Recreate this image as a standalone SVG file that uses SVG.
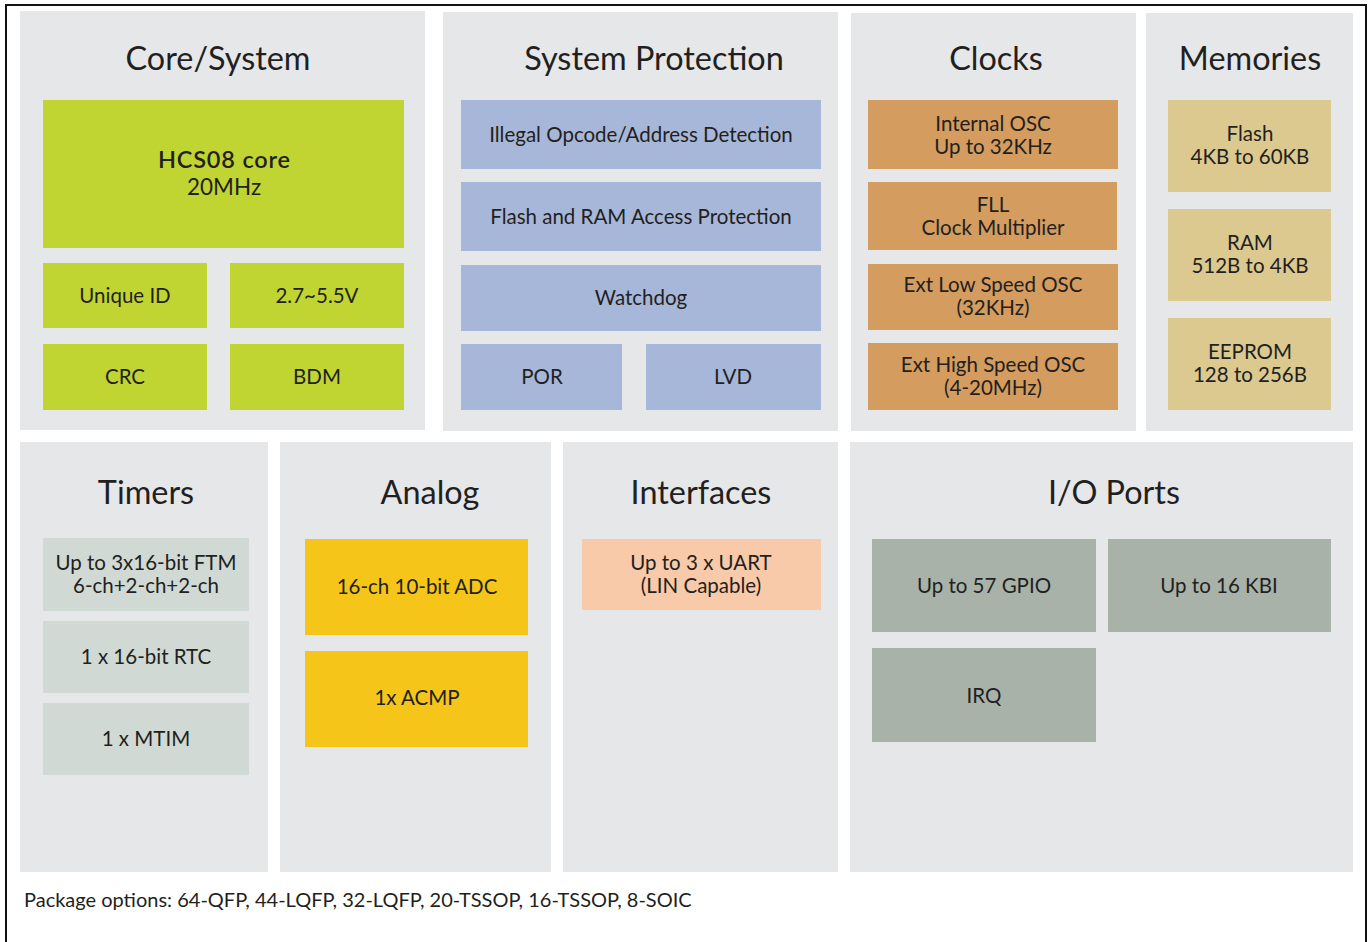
<svg xmlns="http://www.w3.org/2000/svg" width="1368" height="942" viewBox="0 0 1368 942">
<style>
.panel{fill:#e6e7e8}
.t{font-family:Lato,"Open Sans","Liberation Sans",sans-serif;fill:#231f20;text-anchor:middle}
.title{font-size:32.4px}
.lbl{font-size:20.5px}
.green{fill:#c1d532}
.blue{fill:#a7b7d9}
.orange{fill:#d49c5f}
.tan{fill:#dcc98f}
.tgray{fill:#d1d9d4}
.yellow{fill:#f5c619}
.peach{fill:#f8caa9}
.iogray{fill:#a8b2a9}
</style>
<rect x="0" y="0" width="1368" height="942" fill="#ffffff"/>
<rect x="6" y="5" width="1360" height="960" fill="none" stroke="#111" stroke-width="2"/>

<g id="core-system">
<rect class="panel" x="20" y="11" width="405" height="419"/>
<text class="t title" x="218" y="70">Core/System</text>
</g>
<g id="hcs08"><rect class="green" x="43" y="100" width="361" height="148"/><text class="t" x="224" y="168" style="font-size:23.5px;font-weight:600" textLength="132" lengthAdjust="spacing">HCS08 core</text><text class="t" x="224" y="195" style="font-size:22.5px">20MHz</text></g>
<g id="unique-id"><rect class="green" x="43" y="263" width="164" height="65"/><text class="t lbl" x="125" y="303">Unique ID</text></g>
<g id="voltage"><rect class="green" x="230" y="263" width="174" height="65"/><text class="t lbl" x="317" y="303">2.7~5.5V</text></g>
<g id="crc"><rect class="green" x="43" y="344" width="164" height="66"/><text class="t lbl" x="125" y="384">CRC</text></g>
<g id="bdm"><rect class="green" x="230" y="344" width="174" height="66"/><text class="t lbl" x="317" y="384">BDM</text></g>

<g id="system-protection">
<rect class="panel" x="443" y="12" width="395" height="419"/>
<text class="t title" x="654" y="70">System Protection</text>
</g>
<g id="illegal"><rect class="blue" x="461" y="100" width="360" height="69"/><text class="t lbl" x="641" y="142">Illegal Opcode/Address Detection</text></g>
<g id="flash-ram-prot"><rect class="blue" x="461" y="182" width="360" height="69"/><text class="t lbl" x="641" y="224">Flash and RAM Access Protection</text></g>
<g id="watchdog"><rect class="blue" x="461" y="265" width="360" height="66"/><text class="t lbl" x="641" y="305">Watchdog</text></g>
<g id="por"><rect class="blue" x="461" y="344" width="161" height="66"/><text class="t lbl" x="542" y="384">POR</text></g>
<g id="lvd"><rect class="blue" x="646" y="344" width="175" height="66"/><text class="t lbl" x="733" y="384">LVD</text></g>

<g id="clocks">
<rect class="panel" x="851" y="13" width="285" height="418"/>
<text class="t title" x="996" y="70">Clocks</text>
</g>
<g id="internal-osc"><rect class="orange" x="868" y="100" width="250" height="69"/><text class="t lbl" x="993" y="131">Internal OSC</text><text class="t lbl" x="993" y="154">Up to 32KHz</text></g>
<g id="fll"><rect class="orange" x="868" y="182" width="249" height="68"/><text class="t lbl" x="993" y="212">FLL</text><text class="t lbl" x="993" y="235">Clock Multiplier</text></g>
<g id="ext-low"><rect class="orange" x="868" y="264" width="250" height="66"/><text class="t lbl" x="993" y="292">Ext Low Speed OSC</text><text class="t lbl" x="993" y="315">(32KHz)</text></g>
<g id="ext-high"><rect class="orange" x="868" y="343" width="250" height="67"/><text class="t lbl" x="993" y="372">Ext High Speed OSC</text><text class="t lbl" x="993" y="395">(4-20MHz)</text></g>

<g id="memories">
<rect class="panel" x="1146" y="13" width="207" height="418"/>
<text class="t title" x="1250" y="70">Memories</text>
</g>
<g id="flash"><rect class="tan" x="1168" y="100" width="163" height="92"/><text class="t lbl" x="1250" y="141">Flash</text><text class="t lbl" x="1250" y="164">4KB to 60KB</text></g>
<g id="ram"><rect class="tan" x="1168" y="209" width="163" height="92"/><text class="t lbl" x="1250" y="250">RAM</text><text class="t lbl" x="1250" y="273">512B to 4KB</text></g>
<g id="eeprom"><rect class="tan" x="1168" y="318" width="163" height="92"/><text class="t lbl" x="1250" y="359">EEPROM</text><text class="t lbl" x="1250" y="382">128 to 256B</text></g>

<g id="timers">
<rect class="panel" x="20" y="442" width="248" height="430"/>
<text class="t title" x="146" y="504">Timers</text>
</g>
<g id="ftm"><rect class="tgray" x="43" y="538" width="206" height="73"/><text class="t lbl" x="146" y="570">Up to 3x16-bit FTM</text><text class="t lbl" x="146" y="593">6-ch+2-ch+2-ch</text></g>
<g id="rtc"><rect class="tgray" x="43" y="621" width="206" height="72"/><text class="t lbl" x="146" y="664">1 x 16-bit RTC</text></g>
<g id="mtim"><rect class="tgray" x="43" y="703" width="206" height="72"/><text class="t lbl" x="146" y="746">1 x MTIM</text></g>

<g id="analog">
<rect class="panel" x="280" y="442" width="271" height="430"/>
<text class="t title" x="430" y="504">Analog</text>
</g>
<g id="adc"><rect class="yellow" x="305" y="539" width="223" height="96"/><text class="t lbl" x="417" y="594">16-ch 10-bit ADC</text></g>
<g id="acmp"><rect class="yellow" x="305" y="651" width="223" height="96"/><text class="t lbl" x="417" y="705">1x ACMP</text></g>

<g id="interfaces">
<rect class="panel" x="563" y="442" width="275" height="430"/>
<text class="t title" x="701" y="504">Interfaces</text>
</g>
<g id="uart"><rect class="peach" x="582" y="539" width="239" height="71"/><text class="t lbl" x="701" y="570">Up to 3 x UART</text><text class="t lbl" x="701" y="593">(LIN Capable)</text></g>

<g id="io-ports">
<rect class="panel" x="850" y="442" width="503" height="430"/>
<text class="t title" x="1114" y="504">I/O Ports</text>
</g>
<g id="gpio"><rect class="iogray" x="872" y="539" width="224" height="93"/><text class="t lbl" x="984" y="593">Up to 57 GPIO</text></g>
<g id="kbi"><rect class="iogray" x="1108" y="539" width="223" height="93"/><text class="t lbl" x="1219" y="593">Up to 16 KBI</text></g>
<g id="irq"><rect class="iogray" x="872" y="648" width="224" height="94"/><text class="t lbl" x="984" y="703">IRQ</text></g>

<g id="connectors"></g>

<text class="t" x="24" y="907" style="font-size:20px;text-anchor:start">Package options: 64-QFP, 44-LQFP, 32-LQFP, 20-TSSOP, 16-TSSOP, 8-SOIC</text>
</svg>
